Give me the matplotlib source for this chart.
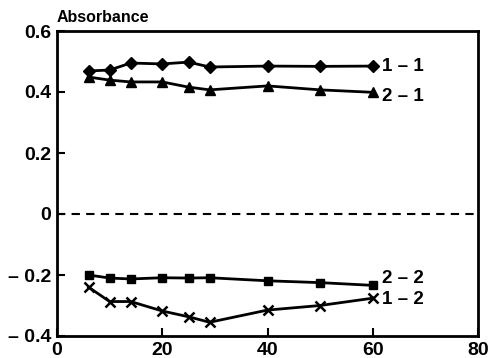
import numpy as np
import matplotlib.pyplot as plt

# Tiempos (eje x) y absorbancias
tiempo = [6, 10, 14, 20, 25, 29, 40, 50, 60]
abs_11 = [0.469, 0.472, 0.495, 0.492, 0.498, 0.482, 0.485, 0.484, 0.485]
abs_21 = [0.449, 0.439, 0.433, 0.433, 0.416, 0.407, 0.420, 0.407, 0.399]
abs_22 = [-0.200, -0.210, -0.213, -0.209, -0.210, -0.209, -0.219, -0.225, -0.234]
abs_12 = [-0.240, -0.287, -0.287, -0.318, -0.337, -0.355, -0.315, -0.300, -0.276]

etiquetas = ["1 \u2013 1", "2 \u2013 1", "2 \u2013 2", "1 \u2013 2"]
etiq_y = [0.485, 0.384, -0.213, -0.280]
xticks = [0, 20, 40, 60, 80]
yticks = [-0.4, -0.2, 0, 0.2, 0.4, 0.6]
yticklabels = ["\u2013 0.4", "\u2013 0.2", "0", "0.2", "0.4", "0.6"]

plt.rcParams['font.family'] = ['Liberation Sans', 'DejaVu Sans']
plt.rcParams['font.weight'] = 'bold'

fig = plt.figure(figsize=(4.9, 3.58), dpi=100)
ax = fig.add_axes([57/490, 1 - 336/358, (478-57)/490, (336-31)/358])

ax.plot(tiempo, abs_11, color='black', lw=2, marker='D', ms=6)
ax.plot(tiempo, abs_21, color='black', lw=2, marker='^', ms=7)
ax.plot(tiempo, abs_22, color='black', lw=2, marker='s', ms=6)
ax.plot(tiempo, abs_12, color='black', lw=2, marker='x', ms=7, mew=1.8)
ax.axhline(0, color='black', lw=1.5, linestyle=(0, (4, 3)))

# Etiquetas de las series al final de cada curva
for lab, yy in zip(etiquetas, etiq_y):
    ax.text(61.8, yy, lab, fontsize=13.5, fontweight='bold',
            va='center', ha='left')

ax.set_xlim(0, 80)
ax.set_ylim(-0.4, 0.6)
ax.set_xticks(xticks)
ax.set_yticks(yticks)
ax.set_yticklabels(yticklabels)
ax.tick_params(direction='in', length=6, width=1.5, labelsize=14, pad=4)
for s in ax.spines.values():
    s.set_linewidth(2)

fig.text(57/490, 1 - 18/358, "Absorbance", fontsize=11.5, fontweight='bold',
         va='center', ha='left')

fig.savefig("out.png", dpi=100)
